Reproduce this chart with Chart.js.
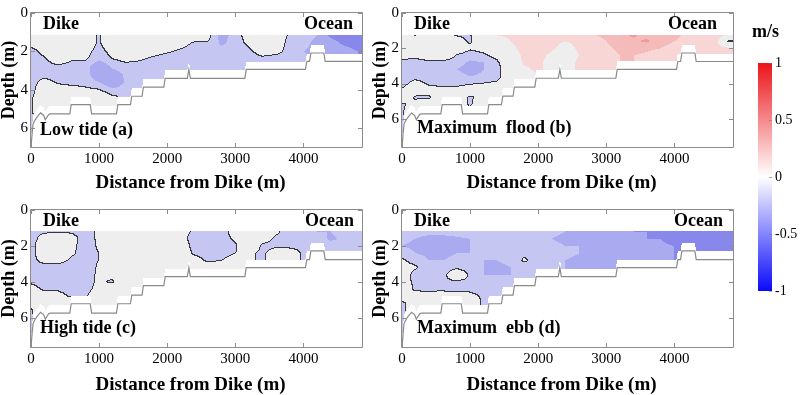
<!DOCTYPE html>
<html>
<head>
<meta charset="utf-8">
<script src="https://cdn.jsdelivr.net/npm/chart.js@4.4.0/dist/chart.umd.min.js"></script>
<style>
html, body { margin: 0; padding: 0; background: #fff; }
body { width: 800px; height: 395px; position: relative; overflow: hidden; }
canvas { position: absolute; }
</style>
</head>
<body>
<canvas id="panelA" width="370" height="194" style="left:0;top:0"></canvas>
<canvas id="panelB" width="370" height="194" style="left:371px;top:0"></canvas>
<canvas id="panelC" width="370" height="198" style="left:0;top:197px"></canvas>
<canvas id="panelD" width="370" height="198" style="left:371px;top:197px"></canvas>
<canvas id="cbar" width="60" height="395" style="left:740px;top:0"></canvas>
<script>
// grid of the velocity sections: distance columns (m) and depth rows (m)
var gridX = [0, 200, 400, 600, 800, 1000, 1200, 1400, 1600, 1800, 2000, 2200, 2400,
    2600, 2800, 3000, 3200, 3400, 3600, 3800, 4000, 4200, 4400, 4600, 4800];
var gridDepth = [1.2, 1.6, 2.0, 2.4, 2.8, 3.2, 3.6, 4.0, 4.4, 4.8, 5.2, 5.6, 6.0];

// velocity (m/s), one profile per distance column
var lowTideV = [
    [0, -0.05, -0.15, -0.15, -0.15, -0.15, -0.15, -0.15, -0.12, -0.12, -0.12, -0.12, -0.12],
    [0, 0, -0.05, -0.12, -0.15, -0.15, -0.06, 0, 0, 0, 0, -0.05, -0.05],
    [0, 0, 0, 0, -0.12, -0.15, -0.12, -0.05, 0, 0, 0, 0, 0],
    [0, 0, 0, -0.08, -0.15, -0.15, -0.15, -0.05, 0, 0, 0, 0, 0],
    [0, 0, -0.05, -0.08, -0.15, -0.15, -0.15, -0.08, 0, 0, 0, 0, 0],
    [-0.12, -0.12, -0.15, -0.18, -0.3, -0.3, -0.2, -0.1, 0, 0, 0, 0, 0],
    [0, 0, -0.05, -0.1, -0.18, -0.25, -0.3, -0.18, -0.08, 0, 0, 0, 0],
    [0, 0, 0, -0.05, -0.15, -0.18, -0.18, -0.15, -0.12, -0.12, -0.12, -0.12, -0.12],
    [0, 0, 0, -0.08, -0.15, -0.15, -0.15, -0.15, -0.15, -0.15, -0.15, -0.15, -0.15],
    [0, 0, -0.05, -0.12, -0.15, -0.15, -0.15, -0.15, -0.15, -0.15, -0.15, -0.15, -0.15],
    [0, 0, -0.08, -0.15, -0.15, -0.15, -0.15, -0.15, -0.15, -0.15, -0.15, -0.15, -0.15],
    [0, -0.05, -0.12, -0.15, -0.15, -0.15, -0.15, -0.15, -0.15, -0.15, -0.15, -0.15, -0.15],
    [0, -0.12, -0.15, -0.15, -0.15, -0.15, -0.15, -0.15, -0.15, -0.15, -0.15, -0.15, -0.15],
    [-0.05, -0.12, -0.15, -0.15, -0.15, -0.15, -0.15, -0.15, -0.15, -0.15, -0.15, -0.15, -0.15],
    [-0.25, -0.22, -0.15, -0.15, -0.15, -0.15, -0.15, -0.15, -0.15, -0.15, -0.15, -0.15, -0.15],
    [-0.15, -0.15, -0.15, -0.15, -0.15, -0.15, -0.15, -0.15, -0.15, -0.15, -0.15, -0.15, -0.15],
    [-0.05, -0.08, -0.12, -0.15, -0.15, -0.15, -0.15, -0.15, -0.15, -0.15, -0.15, -0.15, -0.15],
    [0, 0, -0.05, -0.12, -0.12, -0.12, -0.12, -0.12, -0.12, -0.12, -0.12, -0.12, -0.12],
    [0, 0, -0.05, -0.15, -0.15, -0.15, -0.15, -0.15, -0.15, -0.15, -0.15, -0.15, -0.15],
    [-0.12, -0.15, -0.15, -0.15, -0.15, -0.15, -0.15, -0.15, -0.15, -0.15, -0.15, -0.15, -0.15],
    [-0.18, -0.18, -0.2, -0.18, -0.18, -0.18, -0.18, -0.18, -0.18, -0.18, -0.18, -0.18, -0.18],
    [-0.2, -0.22, -0.22, -0.22, -0.22, -0.22, -0.22, -0.22, -0.22, -0.22, -0.22, -0.22, -0.22],
    [-0.32, -0.25, -0.22, -0.22, -0.22, -0.22, -0.22, -0.22, -0.22, -0.22, -0.22, -0.22, -0.22],
    [-0.35, -0.32, -0.25, -0.25, -0.25, -0.25, -0.25, -0.25, -0.25, -0.25, -0.25, -0.25, -0.25],
    [-0.35, -0.35, -0.3, -0.3, -0.3, -0.3, -0.3, -0.3, -0.3, -0.3, -0.3, -0.3, -0.3]
];
var floodV = [
    [0.08, 0.05, 0, -0.05, -0.12, -0.15, -0.15, -0.15, -0.08, 0, -0.12, -0.12, -0.12],
    [-0.12, -0.05, 0, -0.05, -0.15, -0.15, -0.15, -0.05, 0, -0.12, -0.05, 0, 0],
    [0.05, 0, 0, 0, -0.12, -0.15, -0.18, -0.12, -0.05, -0.12, 0, 0, 0],
    [-0.05, 0, 0, 0, -0.12, -0.18, -0.18, -0.15, -0.05, 0, 0, 0, 0],
    [-0.12, -0.05, 0, -0.1, -0.15, -0.2, -0.15, -0.15, -0.05, 0, 0, 0, 0],
    [-0.12, -0.12, -0.08, -0.15, -0.22, -0.25, -0.2, -0.12, 0, -0.12, -0.12, 0, 0],
    [0.1, 0, -0.05, -0.12, -0.2, -0.2, -0.18, -0.1, 0, -0.05, 0, 0, 0],
    [0.11, 0.05, 0, -0.05, -0.12, -0.15, -0.15, -0.08, 0, 0, 0, 0, 0],
    [0.12, 0.1, 0.08, 0.05, 0.02, 0.02, 0.02, 0.02, 0, 0, 0, 0, 0],
    [0.12, 0.13, 0.13, 0.12, 0.12, 0.08, 0.05, 0.05, 0.05, 0.05, 0.05, 0.05, 0.05],
    [0.12, 0.15, 0.13, 0.13, 0.12, 0.12, 0.1, 0.1, 0.1, 0.1, 0.1, 0.1, 0.1],
    [0.15, 0.13, 0.12, 0.08, 0.06, 0.06, 0.06, 0.06, 0.06, 0.06, 0.06, 0.06, 0.06],
    [0.12, 0.1, 0.05, 0.03, 0.05, 0.05, 0.05, 0.05, 0.05, 0.05, 0.05, 0.05, 0.05],
    [0.15, 0.13, 0.12, 0.1, 0.12, 0.12, 0.12, 0.12, 0.12, 0.12, 0.12, 0.12, 0.12],
    [0.2, 0.16, 0.15, 0.14, 0.14, 0.14, 0.14, 0.14, 0.14, 0.14, 0.14, 0.14, 0.14],
    [0.22, 0.2, 0.18, 0.16, 0.15, 0.15, 0.15, 0.15, 0.15, 0.15, 0.15, 0.15, 0.15],
    [0.28, 0.25, 0.22, 0.2, 0.2, 0.2, 0.2, 0.2, 0.2, 0.2, 0.2, 0.2, 0.2],
    [0.32, 0.28, 0.25, 0.2, 0.2, 0.2, 0.2, 0.2, 0.2, 0.2, 0.2, 0.2, 0.2],
    [0.25, 0.32, 0.22, 0.18, 0.18, 0.18, 0.18, 0.18, 0.18, 0.18, 0.18, 0.18, 0.18],
    [0.2, 0.22, 0.2, 0.15, 0.15, 0.15, 0.15, 0.15, 0.15, 0.15, 0.15, 0.15, 0.15],
    [0.22, 0.2, 0.18, 0.15, 0.15, 0.15, 0.15, 0.15, 0.15, 0.15, 0.15, 0.15, 0.15],
    [0.18, 0.18, 0.15, 0.15, 0.15, 0.15, 0.15, 0.15, 0.15, 0.15, 0.15, 0.15, 0.15],
    [0.15, 0.15, 0.13, 0.13, 0.13, 0.13, 0.13, 0.13, 0.13, 0.13, 0.13, 0.13, 0.13],
    [0.18, 0.15, 0.13, 0.13, 0.13, 0.13, 0.13, 0.13, 0.13, 0.13, 0.13, 0.13, 0.13],
    [0.1, -0.12, 0.12, 0.12, 0.12, 0.12, 0.12, 0.12, 0.12, 0.12, 0.12, 0.12, 0.12]
];
var highTideV = [
    [-0.12, -0.15, -0.15, -0.15, -0.15, -0.15, -0.15, -0.12, -0.05, 0, -0.05, -0.12, -0.12],
    [-0.12, -0.05, 0, 0, -0.05, -0.15, -0.15, -0.15, -0.12, -0.05, 0, 0, 0],
    [-0.12, 0, 0, 0, -0.05, -0.15, -0.15, -0.15, -0.12, -0.05, 0, 0, 0],
    [-0.12, -0.05, -0.05, -0.08, -0.12, -0.15, -0.15, -0.15, -0.15, -0.12, 0, 0, 0],
    [-0.15, -0.15, -0.18, -0.15, -0.15, -0.18, -0.15, -0.15, -0.15, -0.12, -0.05, 0, 0],
    [-0.08, -0.08, -0.08, -0.1, -0.1, -0.08, -0.08, -0.08, -0.05, 0, 0, 0, 0],
    [0, 0, 0.02, 0, 0, 0, -0.05, -0.12, 0, 0, 0, 0, 0],
    [0, 0, 0, 0, 0, 0, 0, 0, 0.05, 0, 0, 0, 0],
    [0, 0, 0.02, 0, 0, 0, 0, 0, 0, 0, 0, 0, 0],
    [0.1, 0, 0, 0.05, 0, 0, 0, 0, 0, 0, 0, 0, 0],
    [0, 0, 0, 0, 0, 0, -0.05, -0.05, -0.05, -0.05, -0.05, -0.05, -0.05],
    [-0.05, -0.05, 0, 0, 0, 0, 0, 0, 0, 0, 0, 0, 0],
    [-0.12, -0.15, -0.15, -0.12, -0.05, 0, 0, 0, 0, 0, 0, 0, 0],
    [-0.15, -0.15, -0.15, -0.15, -0.12, -0.05, -0.05, -0.05, -0.05, -0.05, -0.05, -0.05, -0.05],
    [-0.15, -0.15, -0.15, -0.15, -0.1, -0.05, -0.05, -0.05, -0.05, -0.05, -0.05, -0.05, -0.05],
    [-0.05, -0.08, -0.12, -0.1, -0.05, -0.05, -0.05, -0.05, -0.05, -0.05, -0.05, -0.05, -0.05],
    [0, 0, 0.02, -0.08, -0.08, -0.08, -0.08, -0.08, -0.08, -0.08, -0.08, -0.08, -0.08],
    [0, -0.05, -0.12, -0.12, -0.12, -0.12, -0.12, -0.12, -0.12, -0.12, -0.12, -0.12, -0.12],
    [-0.08, -0.12, -0.12, -0.05, -0.05, -0.05, -0.05, -0.05, -0.05, -0.05, -0.05, -0.05, -0.05],
    [-0.15, -0.12, -0.15, 0, 0, 0, 0, 0, 0, 0, 0, 0, 0],
    [-0.15, -0.18, -0.15, -0.12, -0.12, -0.12, -0.12, -0.12, -0.12, -0.12, -0.12, -0.12, -0.12],
    [-0.2, -0.15, -0.15, -0.15, -0.15, -0.15, -0.15, -0.15, -0.15, -0.15, -0.15, -0.15, -0.15],
    [-0.2, -0.22, -0.15, -0.15, -0.15, -0.15, -0.15, -0.15, -0.15, -0.15, -0.15, -0.15, -0.15],
    [-0.15, -0.18, -0.15, -0.15, -0.15, -0.15, -0.15, -0.15, -0.15, -0.15, -0.15, -0.15, -0.15],
    [-0.15, -0.15, -0.12, -0.12, -0.12, -0.12, -0.12, -0.12, -0.12, -0.12, -0.12, -0.12, -0.12]
];
var ebbV = [
    [-0.15, -0.18, -0.2, -0.15, -0.08, -0.05, 0, -0.05, 0, -0.05, -0.12, -0.12, -0.12],
    [-0.15, -0.2, -0.22, -0.2, -0.15, -0.08, -0.15, -0.12, -0.12, -0.05, -0.05, -0.05, -0.05],
    [-0.15, -0.25, -0.25, -0.22, -0.2, -0.18, -0.15, -0.15, -0.12, -0.06, -0.02, -0.02, -0.02],
    [-0.15, -0.25, -0.28, -0.25, -0.2, -0.15, -0.15, -0.12, -0.12, -0.05, 0, 0, 0],
    [-0.15, -0.22, -0.25, -0.2, -0.15, -0.13, 0.02, -0.12, -0.13, -0.06, 0, 0, 0],
    [-0.15, -0.2, -0.2, -0.2, -0.18, -0.15, -0.12, -0.12, -0.13, -0.06, 0, 0, 0],
    [-0.15, -0.18, -0.15, -0.15, -0.2, -0.2, -0.2, -0.18, -0.15, -0.12, -0.12, -0.12, -0.12],
    [-0.15, -0.15, -0.12, -0.15, -0.2, -0.22, -0.2, -0.18, -0.12, -0.12, -0.12, -0.12, -0.12],
    [-0.15, -0.15, -0.15, -0.15, -0.18, -0.2, -0.2, -0.15, -0.15, -0.15, -0.15, -0.15, -0.15],
    [-0.15, -0.18, -0.15, -0.13, -0.08, -0.15, -0.15, -0.15, -0.15, -0.15, -0.15, -0.15, -0.15],
    [-0.15, -0.2, -0.15, -0.15, -0.15, -0.15, -0.15, -0.15, -0.15, -0.15, -0.15, -0.15, -0.15],
    [-0.18, -0.2, -0.18, -0.15, -0.15, -0.15, -0.15, -0.15, -0.15, -0.15, -0.15, -0.15, -0.15],
    [-0.2, -0.22, -0.2, -0.18, -0.2, -0.2, -0.2, -0.2, -0.2, -0.2, -0.2, -0.2, -0.2],
    [-0.25, -0.25, -0.2, -0.2, -0.22, -0.22, -0.22, -0.22, -0.22, -0.22, -0.22, -0.22, -0.22],
    [-0.25, -0.22, -0.2, -0.2, -0.2, -0.2, -0.2, -0.2, -0.2, -0.2, -0.2, -0.2, -0.2],
    [-0.2, -0.2, -0.22, -0.25, -0.2, -0.2, -0.2, -0.2, -0.2, -0.2, -0.2, -0.2, -0.2],
    [-0.25, -0.25, -0.25, -0.2, -0.2, -0.2, -0.2, -0.2, -0.2, -0.2, -0.2, -0.2, -0.2],
    [-0.3, -0.25, -0.2, -0.2, -0.2, -0.2, -0.2, -0.2, -0.2, -0.2, -0.2, -0.2, -0.2],
    [-0.3, -0.3, -0.25, -0.22, -0.22, -0.22, -0.22, -0.22, -0.22, -0.22, -0.22, -0.22, -0.22],
    [-0.35, -0.3, -0.28, -0.25, -0.25, -0.25, -0.25, -0.25, -0.25, -0.25, -0.25, -0.25, -0.25],
    [-0.35, -0.35, -0.3, -0.3, -0.3, -0.3, -0.3, -0.3, -0.3, -0.3, -0.3, -0.3, -0.3],
    [-0.35, -0.3, -0.3, -0.3, -0.3, -0.3, -0.3, -0.3, -0.3, -0.3, -0.3, -0.3, -0.3],
    [-0.35, -0.35, -0.3, -0.3, -0.3, -0.3, -0.3, -0.3, -0.3, -0.3, -0.3, -0.3, -0.3],
    [-0.4, -0.35, -0.3, -0.3, -0.3, -0.3, -0.3, -0.3, -0.3, -0.3, -0.3, -0.3, -0.3],
    [-0.4, -0.4, -0.35, -0.35, -0.35, -0.35, -0.35, -0.35, -0.35, -0.35, -0.35, -0.35, -0.35]
];

// bed profile (distance in m, depth in m)
var bedX = [0, 15, 30, 55, 90, 140, 185, 210, 260, 285, 570, 590, 870, 890, 1255, 1275, 1460, 1480,
    1630, 1650, 1950, 1970, 2295, 2318, 2340, 3140, 3160, 4030, 4050, 4090, 4110, 4300, 4320, 4860];
var bedLowTide = [7.0, 6.36, 5.8, 5.62, 5.43, 5.22, 5.34, 5.57, 5.3, 5.27, 5.27, 4.79, 4.79, 5.27, 5.27, 4.79,
    4.79, 4.35, 4.35, 3.87, 3.87, 3.41, 3.41, 2.95, 3.41, 3.41, 2.95, 2.95, 2.53, 2.53, 2.09, 2.09, 2.53, 2.53];
var bedOther = [7.6, 6.9, 6.3, 6.1, 5.9, 5.67, 5.8, 6.05, 5.75, 5.72, 5.72, 5.2, 5.2, 5.72, 5.72, 5.2,
    5.2, 4.72, 4.72, 4.2, 4.2, 3.7, 3.7, 3.2, 3.7, 3.7, 3.2, 3.2, 2.75, 2.75, 2.27, 2.27, 2.75, 2.75];

var xTicks = [0, 1000, 2000, 3000, 4000];
var depthTicks = [0, 2, 4, 6];
var cbarTicks = [-1, -0.5, 0, 0.5, 1];

var serif = "'Liberation Serif', 'Times New Roman', serif";
var axisGray = '#8c8c8c';
Chart.defaults.font.family = serif;

// filled contour bands, like contourf
var bandEdges = [-0.5, -0.3, -0.2, -0.1, 0.1, 0.2, 0.3, 0.5];
var bandColors = [[80, 80, 235], [135, 135, 236], [170, 170, 240], [198, 198, 242], [238, 238, 238],
    [248, 214, 214], [245, 186, 186], [238, 155, 155], [232, 90, 90]];
var contourLevel = -0.1;

function lerpAt(xs, ys, v) {
    if (v <= xs[0]) return ys[0];
    for (var i = 0; i < xs.length - 1; i++) {
        if (v <= xs[i + 1]) {
            var t = (v - xs[i]) / (xs[i + 1] - xs[i]);
            return ys[i] + t * (ys[i + 1] - ys[i]);
        }
    }
    return ys[ys.length - 1];
}

function findCell(arr, v) {
    if (v <= arr[0]) return [0, 0];
    for (var i = 0; i < arr.length - 1; i++) {
        if (v <= arr[i + 1]) return [i, (v - arr[i]) / (arr[i + 1] - arr[i])];
    }
    return [arr.length - 2, 1];
}

function sampleGrid(grid, d, z) {
    var c = findCell(gridX, d), r = findCell(gridDepth, z);
    var a = grid[c[0]], b = grid[c[0] + 1];
    var top = a[r[0]] * (1 - c[1]) + b[r[0]] * c[1];
    var bot = a[r[0] + 1] * (1 - c[1]) + b[r[0] + 1] * c[1];
    return top * (1 - r[1]) + bot * r[1];
}

function bandColor(v) {
    var k = 0;
    while (k < bandEdges.length && v >= bandEdges[k]) k++;
    return bandColors[k];
}

function makeField(cfg) {
    return {
        id: 'field',
        beforeDatasetsDraw: function (chart) {
            var ctx = chart.ctx, area = chart.chartArea;
            var xs = chart.scales.x, ys = chart.scales.y;
            var x0 = Math.round(area.left), y0 = Math.round(area.top);
            var w = Math.round(area.right) - x0, h = Math.round(area.bottom) - y0;
            var vals = new Float32Array(w * h);
            vals.fill(NaN);
            for (var i = 0; i < w; i++) {
                var d = xs.getValueForPixel(x0 + i + 0.5);
                var bottom = lerpAt(bedX, cfg.bed, d) - cfg.blank;
                for (var j = 0; j < h; j++) {
                    var z = ys.getValueForPixel(y0 + j + 0.5);
                    if (z < cfg.surface || z > bottom) continue;
                    vals[j * w + i] = sampleGrid(cfg.grid, d, z);
                }
            }
            var img = ctx.createImageData(w, h);
            for (var j = 0; j < h; j++) {
                for (var i = 0; i < w; i++) {
                    var v = vals[j * w + i];
                    if (isNaN(v)) continue;
                    var col = bandColor(v);
                    var below = v < contourLevel, line = false;
                    if (i + 1 < w) {
                        var vr = vals[j * w + i + 1];
                        if (!isNaN(vr) && (vr < contourLevel) !== below) line = true;
                    }
                    if (j + 1 < h) {
                        var vd = vals[(j + 1) * w + i];
                        if (!isNaN(vd) && (vd < contourLevel) !== below) line = true;
                    }
                    if (line) col = [55, 55, 60];
                    var p = (j * w + i) * 4;
                    img.data[p] = col[0]; img.data[p + 1] = col[1]; img.data[p + 2] = col[2]; img.data[p + 3] = 255;
                }
            }
            var off = document.createElement('canvas');
            off.width = w; off.height = h;
            off.getContext('2d').putImageData(img, 0, 0);
            ctx.drawImage(off, x0, y0);
        },
        afterDraw: function (chart) {
            var ctx = chart.ctx, a = chart.chartArea;
            var xs = chart.scales.x, ys = chart.scales.y;
            ctx.save();
            ctx.strokeStyle = axisGray;
            ctx.lineWidth = 1;
            ctx.beginPath();
            ctx.rect(Math.round(a.left) - 0.5, Math.round(a.top) - 0.5,
                Math.round(a.right - a.left) + 1, Math.round(a.bottom - a.top) + 1);
            xTicks.forEach(function (t) {
                var px = Math.round(xs.getPixelForValue(t)) + 0.5;
                ctx.moveTo(px, a.bottom); ctx.lineTo(px, a.bottom - 4);
                ctx.moveTo(px, a.top); ctx.lineTo(px, a.top + 4);
            });
            depthTicks.forEach(function (t) {
                var py = Math.round(ys.getPixelForValue(t)) + 0.5;
                ctx.moveTo(a.left, py); ctx.lineTo(a.left + 4, py);
                ctx.moveTo(a.right, py); ctx.lineTo(a.right - 4, py);
            });
            ctx.stroke();

            ctx.fillStyle = '#000';
            ctx.font = 'bold 18px ' + serif;
            ctx.textAlign = 'left';
            ctx.fillText('Dike', a.left + 12, a.top + 16);
            ctx.textAlign = 'right';
            ctx.fillText('Ocean', a.right - cfg.oceanGap, a.top + 16);
            ctx.textAlign = 'left';
            ctx.fillText(cfg.name, a.left + cfg.nameGap, a.bottom - cfg.nameLift);

            // x-axis title, sits a little left of the axis centre as in the source figure
            ctx.font = 'bold 19px ' + serif;
            ctx.textAlign = 'center';
            ctx.textBaseline = 'middle';
            ctx.fillText('Distance from Dike (m)', (a.left + a.right) / 2 - 6, a.bottom + cfg.titleDrop);
            ctx.restore();
        }
    };
}

function panelChart(id, cfg) {
    var points = bedX.map(function (x, i) { return { x: x, y: cfg.bed[i] }; });
    return new Chart(document.getElementById(id), {
        type: 'line',
        data: {
            datasets: [{
                data: points,
                borderColor: '#8a8a8a',
                borderWidth: 1.2,
                pointRadius: 0,
                tension: 0,
                fill: false
            }]
        },
        options: {
            responsive: false,
            animation: false,
            events: [],
            layout: { padding: { left: 0, top: 13, right: 8, bottom: 0 } },
            plugins: { legend: { display: false }, tooltip: { enabled: false } },
            scales: {
                x: {
                    type: 'linear',
                    min: 0,
                    max: 4860,
                    afterBuildTicks: function (s) { s.ticks = xTicks.map(function (v) { return { value: v }; }); },
                    ticks: {
                        color: '#000',
                        font: { size: 15 },
                        padding: 3,
                        maxRotation: 0,
                        callback: function (v) { return String(v); }
                    },
                    grid: { display: false, drawTicks: false },
                    border: { display: false },
                    title: { display: false },
                    afterFit: function (s) { s.height = cfg.xHeight; }
                },
                y: {
                    type: 'linear',
                    reverse: true,
                    min: 0,
                    max: cfg.yMax,
                    afterBuildTicks: function (s) { s.ticks = depthTicks.map(function (v) { return { value: v }; }); },
                    ticks: {
                        color: '#000',
                        font: { size: 15 },
                        padding: 3,
                        callback: function (v) { return String(v); }
                    },
                    grid: { display: false, drawTicks: false },
                    border: { display: false },
                    title: {
                        display: true,
                        text: 'Depth (m)',
                        color: '#000',
                        font: { size: 18, weight: 'bold', lineHeight: 1.0 },
                        padding: { top: 0, bottom: 0 }
                    },
                    afterFit: function (s) { s.width = 31; }
                }
            }
        },
        plugins: [makeField(cfg)]
    });
}

panelChart('panelA', { grid: lowTideV, bed: bedLowTide, yMax: 7.0, surface: 1.16, blank: 0.41,
    name: 'Low tide (a)', nameGap: 9, nameLift: 12, oceanGap: 9, xHeight: 47, titleDrop: 36 });
panelChart('panelB', { grid: floodV, bed: bedOther, yMax: 7.6, surface: 1.25, blank: 0.45,
    name: 'Maximum  flood (b)', nameGap: 15, nameLift: 14, oceanGap: 16, xHeight: 47, titleDrop: 36 });
panelChart('panelC', { grid: highTideV, bed: bedOther, yMax: 7.6, surface: 1.15, blank: 0.45,
    name: 'High tide (c)', nameGap: 9, nameLift: 14, oceanGap: 8, xHeight: 48, titleDrop: 38 });
panelChart('panelD', { grid: ebbV, bed: bedOther, yMax: 7.6, surface: 1.15, blank: 0.45,
    name: 'Maximum  ebb (d)', nameGap: 15, nameLift: 14, oceanGap: 10, xHeight: 48, titleDrop: 38 });

// colour bar
new Chart(document.getElementById('cbar'), {
    type: 'bar',
    data: {
        labels: [''],
        datasets: [{
            data: [[-1, 1]],
            borderWidth: 0,
            barPercentage: 1,
            categoryPercentage: 1,
            backgroundColor: function (c) {
                var a = c.chart.chartArea;
                if (!a) return '#fff';
                var g = c.chart.ctx.createLinearGradient(0, a.bottom, 0, a.top);
                g.addColorStop(0, 'rgb(10,10,250)');
                g.addColorStop(0.5, 'rgb(255,255,255)');
                g.addColorStop(1, 'rgb(235,20,25)');
                return g;
            }
        }]
    },
    options: {
        responsive: false,
        animation: false,
        events: [],
        layout: { padding: { left: 18, top: 63, right: 0, bottom: 104 } },
        plugins: { legend: { display: false }, tooltip: { enabled: false } },
        scales: {
            x: { display: false },
            y: {
                position: 'right',
                min: -1,
                max: 1,
                afterBuildTicks: function (s) { s.ticks = cbarTicks.map(function (v) { return { value: v }; }); },
                ticks: {
                    color: '#000',
                    font: { size: 14 },
                    padding: 3,
                    callback: function (v) { return String(v); }
                },
                grid: { display: false, drawTicks: false },
                border: { display: false },
                afterFit: function (s) { s.width = 28; }
            }
        }
    },
    plugins: [{
        id: 'cbarText',
        afterDraw: function (chart) {
            var ctx = chart.ctx, a = chart.chartArea, ys = chart.scales.y;
            ctx.save();
            ctx.strokeStyle = 'rgba(120,120,120,0.6)';
            ctx.lineWidth = 1;
            ctx.beginPath();
            cbarTicks.forEach(function (t) {
                var py = Math.round(ys.getPixelForValue(t)) + 0.5;
                ctx.moveTo(a.right, py); ctx.lineTo(a.right - 3, py);
            });
            ctx.stroke();
            ctx.fillStyle = '#000';
            ctx.font = 'bold 18px ' + serif;
            ctx.textAlign = 'left';
            ctx.fillText('m/s', 12, 37);
            ctx.restore();
        }
    }]
});
</script>
</body>
</html>
